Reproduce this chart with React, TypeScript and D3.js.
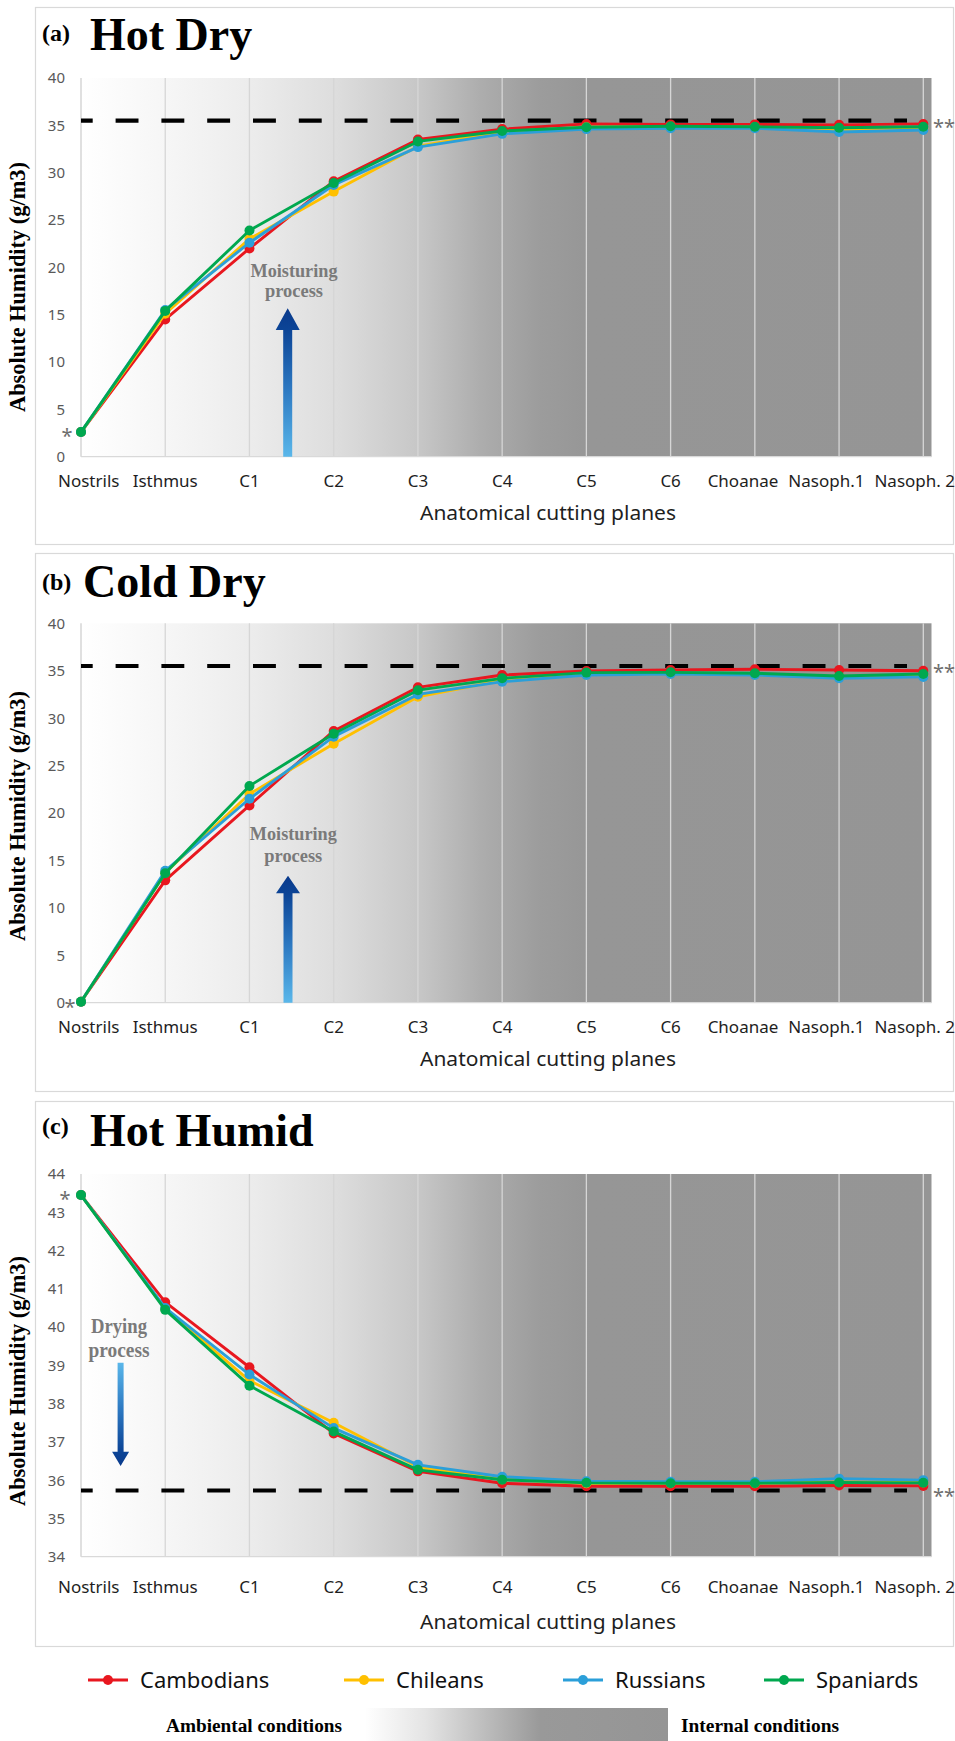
import React from 'react';
import * as d3 from 'd3';

// ---------- DATA ----------
const categories = ['Nostrils', 'Isthmus', 'C1', 'C2', 'C3', 'C4', 'C5', 'C6', 'Choanae', 'Nasoph.1', 'Nasoph. 2'];
const seriesNames = ['Cambodians', 'Chileans', 'Russians', 'Spaniards'];
const seriesColors = ['#e8171f', '#ffc000', '#2b9fd9', '#00a84f'];

// (a) Hot Dry
const hotDryCambodians = [2.6, 14.5, 22.0, 29.1, 33.5, 34.6, 35.15, 35.1, 35.1, 35.05, 35.15];
const hotDryChileans = [2.6, 15.1, 23.0, 28.0, 32.8, 34.3, 34.8, 34.85, 34.8, 34.5, 34.6];
const hotDryRussians = [2.6, 15.5, 22.6, 28.7, 32.7, 34.1, 34.6, 34.7, 34.7, 34.3, 34.5];
const hotDrySpaniards = [2.6, 15.4, 23.9, 28.9, 33.3, 34.4, 34.8, 34.9, 34.85, 34.75, 34.85];
const hotDryReference = 35.5;

// (b) Cold Dry
const coldDryCambodians = [0.1, 12.9, 20.8, 28.65, 33.25, 34.55, 34.97, 35.07, 35.15, 35.07, 35.0];
const coldDryChileans = [0.1, 13.7, 22.0, 27.3, 32.25, 34.0, 34.6, 34.7, 34.6, 34.35, 34.5];
const coldDryRussians = [0.1, 13.9, 21.5, 28.05, 32.5, 33.85, 34.55, 34.65, 34.55, 34.2, 34.35];
const coldDrySpaniards = [0.1, 13.65, 22.85, 28.35, 32.95, 34.2, 34.8, 34.83, 34.73, 34.45, 34.65];
const coldDryReference = 35.5;

// (c) Hot Humid
const hotHumidCambodians = [43.45, 40.65, 38.95, 37.22, 36.23, 35.92, 35.84, 35.84, 35.84, 35.86, 35.85];
const hotHumidChileans = [43.45, 40.48, 38.6, 37.5, 36.35, 36.02, 35.92, 35.92, 35.92, 35.95, 35.94];
const hotHumidRussians = [43.45, 40.5, 38.76, 37.36, 36.4, 36.09, 35.97, 35.96, 35.96, 36.04, 36.0];
const hotHumidSpaniards = [43.45, 40.45, 38.47, 37.27, 36.27, 36.01, 35.93, 35.92, 35.92, 35.94, 35.93];
const hotHumidReference = 35.73;

const dryTicks = [0, 5, 10, 15, 20, 25, 30, 35, 40];
const humidTicks = [34, 35, 36, 37, 38, 39, 40, 41, 42, 43, 44];

const xAxisTitle = 'Anatomical cutting planes';
const yAxisTitle = 'Absolute Humidity (g/m3)';

// ---------- LAYOUT ----------
const W = 955;
const H = 1741;
const PLOT_LEFT = 81;
const LAST_X = 923.3;
const BG_RIGHT = 931.5;
const REF_END = 907;

const panels = [
  {
    id: 'a', tag: '(a)', title: 'Hot Dry', domain: [0, 40], ticks: dryTicks,
    series: [hotDryCambodians, hotDryChileans, hotDryRussians, hotDrySpaniards], ref: hotDryReference,
    box: [7, 544], plot: [78, 456.7], tagBase: 41, titleBase: 50, titleX: 90,
    xLabBase: 486.5, axisTitleBase: 520, yTitleCenter: 287, starX: 67, starDy: 0,
    proc: { lines: ['Moisturing', 'process'], x: 294, bases: [276.7, 297.3], fs: 18, lens: [87, 58] },
    arrow: { x: 287.7, start: 456.7, headBase: 330, tip: 308.3, hw: 24, sw: 9 },
  },
  {
    id: 'b', tag: '(b)', title: 'Cold Dry', domain: [0, 40], ticks: dryTicks,
    series: [coldDryCambodians, coldDryChileans, coldDryRussians, coldDrySpaniards], ref: coldDryReference,
    box: [553, 1091], plot: [623.3, 1002.7], tagBase: 590, titleBase: 597.3, titleX: 83,
    xLabBase: 1032.5, axisTitleBase: 1066, yTitleCenter: 816, starX: 70, starDy: 1,
    proc: { lines: ['Moisturing', 'process'], x: 293.3, bases: [840, 861.7], fs: 18, lens: [87, 58] },
    arrow: { x: 288, start: 1002.7, headBase: 893.3, tip: 875.7, hw: 24, sw: 9 },
  },
  {
    id: 'c', tag: '(c)', title: 'Hot Humid', domain: [34, 44], ticks: humidTicks,
    series: [hotHumidCambodians, hotHumidChileans, hotHumidRussians, hotHumidSpaniards], ref: hotHumidReference,
    box: [1101, 1646], plot: [1174, 1556.7], tagBase: 1134, titleBase: 1146, titleX: 90,
    xLabBase: 1592.5, axisTitleBase: 1629, yTitleCenter: 1381, starX: 65, starDy: 0,
    proc: { lines: ['Drying', 'process'], x: 119, bases: [1333.3, 1356.5], fs: 21, lens: [56, 61] },
    arrow: { x: 120.6, start: 1362.7, headBase: 1451.7, tip: 1466, hw: 17, sw: 6 },
  },
];

const legendStarts = [88, 344, 563, 764];
const LEGEND_Y = 1680;

const LABEL_FONT = '17px "Noto Sans"';

let ctx: CanvasRenderingContext2D | null = null;
function textWidth(t: string, font: string) {
  if (!ctx) ctx = document.createElement('canvas').getContext('2d');
  if (!ctx) return t.length * 8;
  ctx.font = font;
  return ctx.measureText(t).width;
}

function layoutLabels(xs: number[], widths: number[], minL: number, maxR: number, gap: number) {
  const n = xs.length;
  const L = xs.map((x, i) => x - widths[i] / 2);
  if (L[0] < minL) L[0] = minL;
  if (L[n - 1] + widths[n - 1] > maxR) L[n - 1] = maxR - widths[n - 1];
  for (let i = n - 2; i >= 1; i--) {
    if (L[i] + widths[i] > L[i + 1] - gap) L[i] = L[i + 1] - gap - widths[i];
  }
  for (let i = 1; i < n; i++) {
    if (L[i] < L[i - 1] + widths[i - 1] + gap && i < n - 1) L[i] = L[i - 1] + widths[i - 1] + gap;
  }
  return L.map((l, i) => l + widths[i] / 2);
}

function Panel({ p }: { p: any }) {
  const x = d3.scalePoint<string>().domain(categories).range([PLOT_LEFT, LAST_X]);
  const y = d3.scaleLinear().domain(p.domain).range([p.plot[1], p.plot[0]]);
  const line = d3.line<number>().x((_, i) => x(categories[i]) as number).y((d) => y(d));
  const widths = categories.map((c) => textWidth(c, LABEL_FONT));
  const centers = layoutLabels(categories.map((c) => x(c) as number), widths, 58, 955, 10);
  const a = p.arrow;
  const arrowPts = [
    [a.x - a.sw / 2, a.start], [a.x - a.sw / 2, a.headBase], [a.x - a.hw / 2, a.headBase], [a.x, a.tip],
    [a.x + a.hw / 2, a.headBase], [a.x + a.sw / 2, a.headBase], [a.x + a.sw / 2, a.start],
  ];
  const refY = y(p.ref);
  return (
    <g>
      <defs>
        <linearGradient id={`bg-${p.id}`} gradientUnits="userSpaceOnUse" x1={PLOT_LEFT} x2={BG_RIGHT} y1={0} y2={0}>
          <stop offset="0" stopColor="#ffffff" />
          <stop offset="0.101" stopColor="#f6f6f6" />
          <stop offset="0.2" stopColor="#ececec" />
          <stop offset="0.3" stopColor="#dddddd" />
          <stop offset="0.4" stopColor="#c6c6c6" />
          <stop offset="0.47" stopColor="#adadad" />
          <stop offset="0.54" stopColor="#9c9c9c" />
          <stop offset="0.6" stopColor="#969696" />
          <stop offset="1" stopColor="#959595" />
        </linearGradient>
        <linearGradient id={`ar-${p.id}`} gradientUnits="userSpaceOnUse" x1={0} x2={0} y1={a.start} y2={a.tip}>
          <stop offset="0" stopColor="#5ab7ea" />
          <stop offset="0.45" stopColor="#2d79c2" />
          <stop offset="0.85" stopColor="#0c4597" />
          <stop offset="1" stopColor="#0a3a8c" />
        </linearGradient>
      </defs>
      <rect x={35.5} y={p.box[0] + 0.5} width={918} height={p.box[1] - p.box[0]} fill="#fff" stroke="#d9d9d9" strokeWidth={1.2} />
      {/* titles */}
      <text x={42} y={p.tagBase} fontFamily="Liberation Serif" fontWeight="bold" fontSize={24} fill="#000">{p.tag}</text>
      <text x={p.titleX} y={p.titleBase} fontFamily="Liberation Serif" fontWeight="bold" fontSize={46} fill="#000">{p.title}</text>
      {/* plot background */}
      <rect x={PLOT_LEFT} y={p.plot[0]} width={BG_RIGHT - PLOT_LEFT} height={p.plot[1] - p.plot[0]} fill={`url(#bg-${p.id})`} />
      {categories.map((c, i) => (
        <line key={c} x1={x(c)} x2={x(c)} y1={p.plot[0]} y2={p.plot[1]} stroke={i === 0 ? '#d0d0d0' : '#d6d6d6'} strokeWidth={1.3} />
      ))}
      <line x1={PLOT_LEFT} x2={BG_RIGHT} y1={p.plot[1]} y2={p.plot[1]} stroke="#d9d9d9" strokeWidth={1.3} />
      {/* y ticks */}
      {p.ticks.map((t: number) => (
        <text key={t} x={65} y={y(t) + 5.4} textAnchor="end" fontFamily="Noto Sans" fontSize={15} fill="#595959">{t}</text>
      ))}
      {/* x labels */}
      {categories.map((c, i) => (
        <text key={c} x={centers[i]} y={p.xLabBase} textAnchor="middle" fontFamily="Noto Sans" fontSize={17} fill="#1e1e1e">{c}</text>
      ))}
      <text x={548} y={p.axisTitleBase} textAnchor="middle" fontFamily="Noto Sans" fontSize={20} textLength={256} lengthAdjust="spacingAndGlyphs" fill="#1e1e1e">{xAxisTitle}</text>
      <text transform={`translate(25,${p.yTitleCenter}) rotate(-90)`} textAnchor="middle" fontFamily="Liberation Serif" fontWeight="bold" fontSize={24} textLength={250} lengthAdjust="spacingAndGlyphs" fill="#000">{yAxisTitle}</text>
      {/* process annotation */}
      {p.proc.lines.map((t: string, i: number) => (
        <text key={t} x={p.proc.x} y={p.proc.bases[i]} textAnchor="middle" fontFamily="Liberation Serif" fontWeight="bold" fontSize={p.proc.fs} textLength={p.proc.lens[i]} lengthAdjust="spacingAndGlyphs" fill="#7a7a7a">{t}</text>
      ))}
      <polygon points={arrowPts.map((q) => q.join(',')).join(' ')} fill={`url(#ar-${p.id})`} />
      {/* reference line */}
      <line x1={PLOT_LEFT} x2={REF_END} y1={refY} y2={refY} stroke="#000" strokeWidth={4.2} strokeDasharray="22.9 22.9" strokeDashoffset={11.2} />
      {/* series */}
      {p.series.map((s: number[], si: number) => (
        <g key={si}>
          <path d={line(s) || ''} fill="none" stroke={seriesColors[si]} strokeWidth={2.9} strokeLinejoin="round" />
          {s.map((v, i) => (
            <circle key={i} cx={x(categories[i])} cy={y(v)} r={5} fill={seriesColors[si]} />
          ))}
        </g>
      ))}
      {/* asterisks */}
      <text x={p.starX} y={y(p.series[0][0]) + 11 + p.starDy} textAnchor="middle" fontFamily="Noto Sans" fontSize={20} fill="#6e6e6e">*</text>
      <text x={933} y={refY + 13} fontFamily="Noto Sans" fontSize={20} fill="#6e6e6e">**</text>
    </g>
  );
}

export default function App() {
  return (
    <svg width={W} height={H} style={{ position: 'absolute', left: 0, top: 0, display: 'block', background: '#fff' }}>
      <rect x={0} y={0} width={W} height={H} fill="#fff" />
      {panels.map((p) => (
        <Panel key={p.id} p={p} />
      ))}
      {/* legend */}
      {seriesNames.map((n, i) => (
        <g key={n}>
          <line x1={legendStarts[i]} x2={legendStarts[i] + 40} y1={LEGEND_Y} y2={LEGEND_Y} stroke={seriesColors[i]} strokeWidth={3} />
          <circle cx={legendStarts[i] + 20} cy={LEGEND_Y} r={5} fill={seriesColors[i]} />
          <text x={legendStarts[i] + 52} y={LEGEND_Y + 8} fontFamily="Noto Sans" fontSize={22} fill="#111">{n}</text>
        </g>
      ))}
      {/* ambient / internal bar */}
      <defs>
        <linearGradient id="condBar" x1="0" x2="1" y1="0" y2="0">
          <stop offset="0" stopColor="#ffffff" />
          <stop offset="0.2" stopColor="#e4e4e4" />
          <stop offset="0.4" stopColor="#bcbcbc" />
          <stop offset="0.58" stopColor="#999999" />
          <stop offset="1" stopColor="#959595" />
        </linearGradient>
      </defs>
      <text x={166} y={1732} fontFamily="Liberation Serif" fontWeight="bold" fontSize={18} textLength={176} lengthAdjust="spacingAndGlyphs" fill="#000">Ambiental conditions</text>
      <rect x={365} y={1708} width={303} height={33} fill="url(#condBar)" />
      <text x={681} y={1732} fontFamily="Liberation Serif" fontWeight="bold" fontSize={18} textLength={158} lengthAdjust="spacingAndGlyphs" fill="#000">Internal conditions</text>
    </svg>
  );
}
